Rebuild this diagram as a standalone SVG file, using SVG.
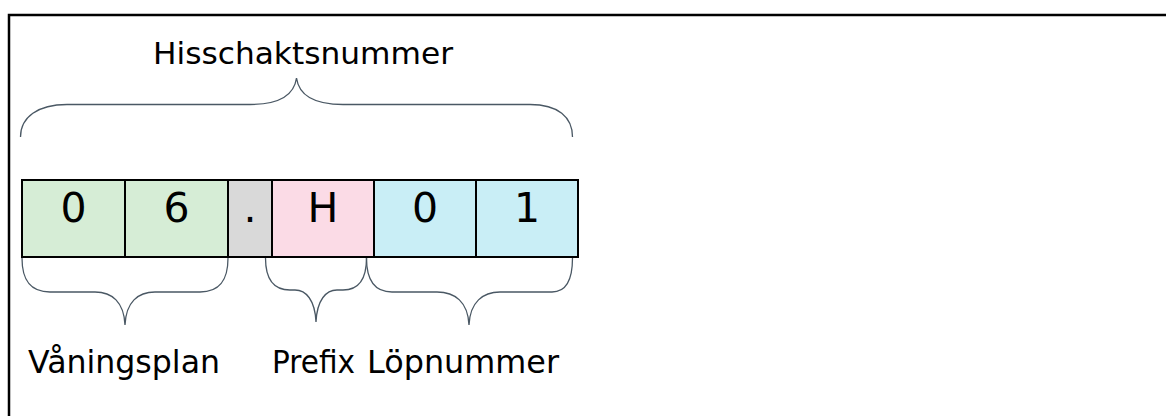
<svg xmlns="http://www.w3.org/2000/svg" width="1166" height="416" viewBox="0 0 1166 416">
<style>
  .cell { stroke: #000; stroke-width: 2; }
  .g { fill: #d6edd6; }
  .d { fill: #d9d9d9; }
  .p { fill: #fbdbe6; }
  .b { fill: #c9eef6; }
  .ct { font-family: "DejaVu Sans", Verdana, sans-serif; font-size: 41px; fill: #000; text-anchor: middle; }
  .ttl { font-family: "DejaVu Sans", Verdana, sans-serif; font-size: 31px; fill: #000; }
  .lbl { font-family: "DejaVu Sans", Verdana, sans-serif; font-size: 32px; fill: #000; }
  .brace { fill: none; stroke: #4a5864; stroke-width: 1.3; }
</style>
<rect x="0" y="0" width="1166" height="416" fill="#fff"/>
<rect x="9" y="15" width="1200" height="450" fill="none" stroke="#000" stroke-width="2.5"/>
<g id="title">
  <text class="ttl" x="153" y="64" textLength="300" lengthAdjust="spacingAndGlyphs">Hisschaktsnummer</text>
</g>
<g id="cells">
  <g id="cell-0a"><rect class="cell g" x="22" y="180" width="103" height="77"/><text class="ct" x="73.5" y="222">0</text></g>
  <g id="cell-6"><rect class="cell g" x="125" y="180" width="103" height="77"/><text class="ct" x="176.5" y="222">6</text></g>
  <g id="cell-dot"><rect class="cell d" x="228" y="180" width="44" height="77"/><text class="ct" x="250" y="222">.</text></g>
  <g id="cell-H"><rect class="cell p" x="272" y="180" width="102" height="77"/><text class="ct" x="323" y="222">H</text></g>
  <g id="cell-0b"><rect class="cell b" x="374" y="180" width="102" height="77"/><text class="ct" x="425" y="222">0</text></g>
  <g id="cell-1"><rect class="cell b" x="476" y="180" width="102" height="77"/><text class="ct" x="527" y="222">1</text></g>
</g>
<g id="connectors">
  <path class="brace" d="M20.5,137 C20.5,117 38,104.5 67,104.5 L250,104.5 C278,104.5 294,96 296.5,78 C299,96 315,104.5 343,104.5 L530,104.5 C558,104.5 572.5,117 572.5,137"/>
  <path class="brace" d="M22,258 C22,280 30,292 50,292 L95,292 C112,292 124,302 125,325 C126,302 138,292 155,292 L200,292 C220,292 228,280 228,258"/>
  <path class="brace" d="M265.5,258 C265.5,278 272,290 290,290 L295,290 C306,290 315,300 316,322 C317,300 326,290 337,290 L343,290 C360,290 366.5,278 366.5,258"/>
  <path class="brace" d="M366.5,258 C366.5,280 374,292 392,292 L437,292 C455,292 468,302 469,325 C470,302 483,292 500,292 L552,292 C566,292 572.5,280 572.5,258"/>
</g>
<g id="labels">
  <text class="lbl" x="28" y="373" textLength="192" lengthAdjust="spacingAndGlyphs">Våningsplan</text>
  <text class="lbl" x="272" y="373" textLength="83" lengthAdjust="spacingAndGlyphs">Prefix</text>
  <text class="lbl" x="367" y="373" textLength="192" lengthAdjust="spacingAndGlyphs">Löpnummer</text>
</g>
</svg>
